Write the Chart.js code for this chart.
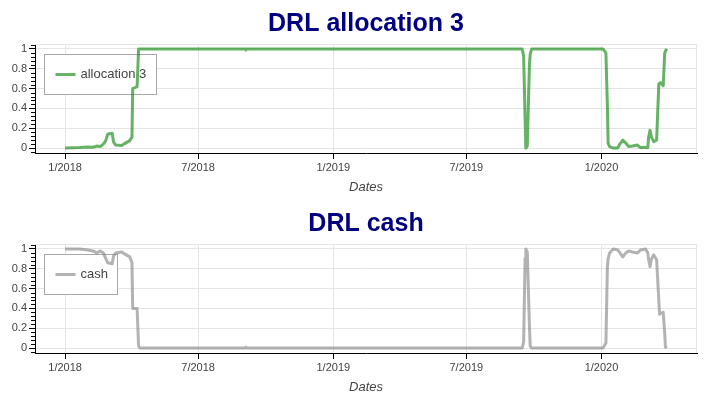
<!DOCTYPE html>
<html>
<head>
<meta charset="utf-8">
<script src="https://cdn.jsdelivr.net/npm/chart.js@4"></script>
<style>
body { margin: 0; background: #fff; }
canvas { display: block; }
</style>
</head>
<body>
<canvas id="allocChart" width="709" height="200"></canvas>
<canvas id="cashChart" width="709" height="200"></canvas>
<script>
const dates = [
  '2018-01-01', '2018-01-21', '2018-02-01', '2018-02-08', '2018-02-13', '2018-02-18', '2018-02-22', '2018-02-25', '2018-02-28',
  '2018-03-06', '2018-03-08', '2018-03-11', '2018-03-19', '2018-03-23', '2018-03-30',
  '2018-04-02', '2018-04-03', '2018-04-09', '2018-04-11', '2018-04-13',
  '2018-09-03', '2018-09-04', '2018-09-05',
  '2019-09-15', '2019-09-17', '2019-09-19', '2019-09-20', '2019-09-22', '2019-09-24', '2019-09-25', '2019-09-26', '2019-09-28',
  '2020-01-03', '2020-01-07', '2020-01-09', '2020-01-10', '2020-01-12', '2020-01-17', '2020-01-23', '2020-01-26', '2020-01-30',
  '2020-02-03', '2020-02-07', '2020-02-12', '2020-02-19', '2020-02-23',
  '2020-03-01', '2020-03-04', '2020-03-05', '2020-03-07', '2020-03-09', '2020-03-12', '2020-03-16',
  '2020-03-19', '2020-03-20', '2020-03-21', '2020-03-25', '2020-03-27', '2020-03-28', '2020-03-30'
];

const allocation3 = [
  0, 0.005, 0.01, 0.008, 0.02, 0.015, 0.04, 0.07, 0.14,
  0.15, 0.06, 0.03, 0.025, 0.045, 0.075,
  0.11, 0.6, 0.62, 1, 1,
  1, 0.99, 1,
  1, 0.93, 0.3, 0, 0.02, 0.6, 0.85, 0.95, 1,
  1, 0.96, 0.42, 0.05, 0.015, 0, 0, 0.04, 0.08,
  0.05, 0.015, 0.02, 0.03, 0.005,
  0.005, 0.005, 0.1, 0.18, 0.11, 0.065, 0.08,
  0.65, 0.65, 0.66, 0.63, 0.96, 0.98, 1
];

const cash = [
  1, 1, 0.99, 0.98, 0.96, 0.98, 0.96, 0.91, 0.86,
  0.85, 0.93, 0.96, 0.97, 0.95, 0.92,
  0.86, 0.4, 0.4, 0.02, 0,
  0, 0.01, 0,
  0, 0.06, 0.9, 1, 0.97, 0.45, 0.2, 0.02, 0,
  0, 0.05, 0.82, 0.9, 0.96, 1, 0.99, 0.96, 0.92,
  0.96, 0.98, 0.97, 0.96, 0.99,
  1, 0.96, 0.9, 0.82, 0.9, 0.94, 0.89,
  0.48, 0.34, 0.35, 0.36, 0.15, 0.01, 0
];

const tickDates = ['2018-01-01', '2018-07-01', '2019-01-01', '2019-07-01', '2020-01-01'];
const tickLabels = ['1/2018', '7/2018', '1/2019', '7/2019', '1/2020'];
const yTicks = [0, 0.2, 0.4, 0.6, 0.8, 1];
const yTickLabels = ['0', '0.2', '0.4', '0.6', '0.8', '1'];

Chart.defaults.font.family = '"Liberation Sans", Arial, Helvetica, sans-serif';

const start = Date.parse('2018-01-01');
function toDays(d) {
  return (Date.parse(d) - start) / 86400000;
}

// auto range like bokeh, 5% each side
const firstDay = toDays(dates[0]);
const lastDay = toDays(dates[dates.length - 1]);
const xPad = (lastDay - firstDay) * 0.05;

// plot outline, boxed legend under the line, minor y ticks
const frame = {
  id: 'frame',
  beforeDatasetsDraw(chart) {
    const { ctx, chartArea: a } = chart;
    ctx.save();
    ctx.strokeStyle = '#e5e5e5';
    ctx.lineWidth = 1;
    ctx.beginPath();
    ctx.moveTo(a.left, a.top + 0.5);
    ctx.lineTo(a.right - 0.5, a.top + 0.5);
    ctx.lineTo(a.right - 0.5, a.bottom);
    ctx.stroke();

    const ds = chart.data.datasets[0];
    ctx.font = '13px "Liberation Sans", Arial, sans-serif';
    const w = ctx.measureText(ds.label).width;
    const x = Math.round(a.left + 9) + 0.5;
    const y = Math.round(a.top + 10) + 0.5;
    const bw = Math.round(w + 46);
    const bh = 40;
    ctx.fillStyle = '#fff';
    ctx.fillRect(x, y, bw, bh);
    ctx.strokeStyle = '#a8a8a8';
    ctx.strokeRect(x, y, bw, bh);
    ctx.strokeStyle = ds.borderColor;
    ctx.lineWidth = 3;
    ctx.beginPath();
    ctx.moveTo(x + 11, y + 20);
    ctx.lineTo(x + 31, y + 20);
    ctx.stroke();
    ctx.fillStyle = '#444';
    ctx.textBaseline = 'middle';
    ctx.fillText(ds.label, x + 36, y + 20);
    ctx.restore();
  },
  afterDraw(chart) {
    const { ctx } = chart;
    const ys = chart.scales.y;
    ctx.save();
    ctx.strokeStyle = '#000';
    ctx.lineWidth = 1;
    ctx.beginPath();
    for (let i = -1; i <= 26; i++) {
      if (i % 5 === 0) continue;
      const py = Math.round(ys.getPixelForValue(i * 0.04)) + 0.5;
      ctx.moveTo(ys.right - 4, py);
      ctx.lineTo(ys.right, py);
    }
    ctx.stroke();
    ctx.restore();
  }
};

function makeChart(id, title, label, values, color) {
  const ctx = document.getElementById(id).getContext('2d');
  return new Chart(ctx, {
    type: 'line',
    data: {
      datasets: [{
        label: label,
        data: dates.map((d, i) => ({ x: toDays(d), y: values[i] })),
        borderColor: color,
        borderWidth: 3,
        borderJoinStyle: 'round',
        pointRadius: 0,
        tension: 0,
        fill: false
      }]
    },
    options: {
      responsive: false,
      devicePixelRatio: 1,
      animation: false,
      layout: { padding: { right: 12 } },
      plugins: {
        legend: { display: false },
        tooltip: { enabled: false },
        title: {
          display: true,
          text: title,
          color: '#000080',
          fullSize: false,
          font: { size: 25, weight: 'bold' },
          padding: { top: 9, bottom: 5 }
        }
      },
      scales: {
        x: {
          type: 'linear',
          min: firstDay - xPad,
          max: lastDay + xPad,
          afterBuildTicks: s => { s.ticks = tickDates.map(d => ({ value: toDays(d) })); },
          afterFit: s => { s.height = 47; },
          ticks: {
            callback: (v, i) => tickLabels[i],
            color: '#444',
            font: { size: 11 },
            padding: 2,
            maxRotation: 0,
            autoSkip: false
          },
          grid: { color: '#e5e5e5', tickColor: '#000', tickLength: 6 },
          border: { color: '#000', width: 1 },
          title: {
            display: true,
            text: 'Dates',
            color: '#444',
            font: { size: 13, style: 'italic' },
            padding: { top: 0, bottom: 5 }
          }
        },
        y: {
          min: -0.05,
          max: 1.05,
          afterBuildTicks: s => { s.ticks = yTicks.map(v => ({ value: v })); },
          afterFit: s => { s.width = 35; },
          ticks: {
            callback: (v, i) => yTickLabels[i],
            color: '#444',
            font: { size: 11 },
            padding: 2
          },
          grid: { color: '#e5e5e5', tickColor: '#000', tickLength: 6 },
          border: { color: '#000', width: 1 }
        }
      }
    },
    plugins: [frame]
  });
}

makeChart('allocChart', 'DRL allocation 3', 'allocation 3', allocation3, 'rgba(0,128,0,0.6)');
makeChart('cashChart', 'DRL cash', 'cash', cash, 'rgba(128,128,128,0.6)');
</script>
</body>
</html>
